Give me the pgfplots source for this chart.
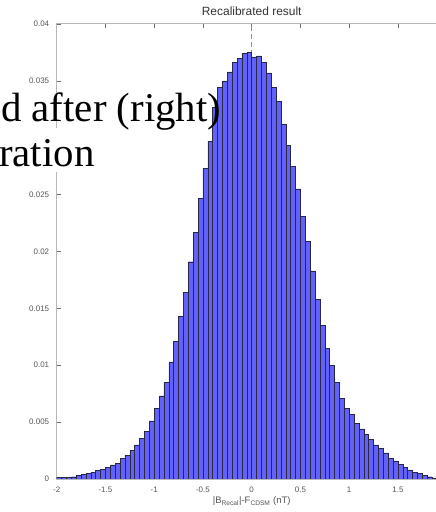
\documentclass[border=0pt]{standalone}
\usepackage{pgfplots}
\usepackage{pgfplotstable}
\pgfplotsset{compat=1.18}
\usepackage{fontspec}
\setmainfont{Liberation Sans}
\newfontfamily\slidefont{Liberation Serif}

\definecolor{barfill}{RGB}{98,98,250}
\definecolor{baredge}{RGB}{40,40,70}
\definecolor{axisgray}{RGB}{185,185,185}
\definecolor{tickgray}{RGB}{110,110,110}
\definecolor{labelgray}{RGB}{85,85,85}

% histogram of |B_Recal| - F_CDSM: left bin edge, normalised count (bin width 0.05 nT)
\pgfplotstableread{
x y
-2.00 0.00012
-1.95 0.00012
-1.90 0.00015
-1.85 0.00020
-1.80 0.00030
-1.75 0.00039
-1.70 0.00050
-1.65 0.00060
-1.60 0.00074
-1.55 0.00086
-1.50 0.00104
-1.45 0.00125
-1.40 0.00140
-1.35 0.00180
-1.30 0.00210
-1.25 0.00250
-1.20 0.00300
-1.15 0.00360
-1.10 0.00420
-1.05 0.00510
-1.00 0.00620
-0.95 0.00730
-0.90 0.00850
-0.85 0.01030
-0.80 0.01210
-0.75 0.01430
-0.70 0.01640
-0.65 0.01910
-0.60 0.02170
-0.55 0.02470
-0.50 0.02730
-0.45 0.02970
-0.40 0.03270
-0.35 0.03440
-0.30 0.03500
-0.25 0.03580
-0.20 0.03660
-0.15 0.03700
-0.10 0.03740
-0.05 0.03750
0.00 0.03710
0.05 0.03720
0.10 0.03660
0.15 0.03570
0.20 0.03440
0.25 0.03320
0.30 0.03120
0.35 0.02930
0.40 0.02750
0.45 0.02550
0.50 0.02310
0.55 0.02090
0.60 0.01830
0.65 0.01580
0.70 0.01350
0.75 0.01150
0.80 0.01000
0.85 0.00850
0.90 0.00710
0.95 0.00620
1.00 0.00570
1.05 0.00490
1.10 0.00440
1.15 0.00390
1.20 0.00350
1.25 0.00300
1.30 0.00270
1.35 0.00230
1.40 0.00180
1.45 0.00160
1.50 0.00130
1.55 0.00100
1.60 0.00080
1.65 0.00060
1.70 0.00050
1.75 0.00030
1.80 0.00020
1.85 0.00010
1.90 0
}\histdata

\begin{document}
\begin{tikzpicture}
\path[use as bounding box] (0bp,0bp) rectangle (436bp,512bp);
\clip (0bp,0bp) rectangle (436bp,512bp);
\begin{axis}[
  at={(56.7bp,33bp)}, anchor=south west,
  scale only axis, width=390bp, height=455bp,
  xmin=-2, xmax=2, ymin=0, ymax=0.04,
  scaled x ticks=false, scaled y ticks=false,
  xtick={-2,-1.5,-1,-0.5,0,0.5,1,1.5},
  xticklabels={-2,-1.5,-1,-0.5,0,0.5,1,1.5},
  ytick={0,0.005,0.01,0.015,0.02,0.025,0.03,0.035,0.04},
  yticklabels={0,0.005,0.01,0.015,0.02,0.025,,0.035,0.04},
  tick align=inside,
  major tick length=4.5bp,
  axis line style={draw=axisgray, line width=1bp},
  tick style={draw=tickgray, line width=0.6bp},
  ticklabel style={font=\fontsize{8}{9.6}\selectfont, text=labelgray},
  xticklabel style={yshift=-4bp},
  yticklabel style={xshift=-4bp},
  title={Recalibrated result},
  title style={font=\fontsize{12}{14}\selectfont, text=black!80, yshift=-1bp},
  xlabel={|B\textsubscript{Recal}|-F\textsubscript{CDSM} (nT)},
  xlabel style={font=\fontsize{9.5}{11}\selectfont, text=labelgray, yshift=2bp},
]
\addplot[black!45, line width=0.6bp, dash pattern=on 5bp off 3bp] coordinates {(0,0) (0,0.04)};
\addplot[ybar interval, fill=barfill, draw=baredge, line width=0.45bp] table[x=x, y=y] {\histdata};
\end{axis}
\fill[white] (0bp,340bp) rectangle (95bp,384bp);
\node[anchor=base west, inner sep=0pt, font=\slidefont\fontsize{41}{49}\selectfont] at (1bp,390.3bp) {d after (right)};
\node[anchor=base west, inner sep=0pt, font=\slidefont\fontsize{41}{49}\selectfont] at (-1bp,345.3bp) {ration};
\end{tikzpicture}
\end{document}
